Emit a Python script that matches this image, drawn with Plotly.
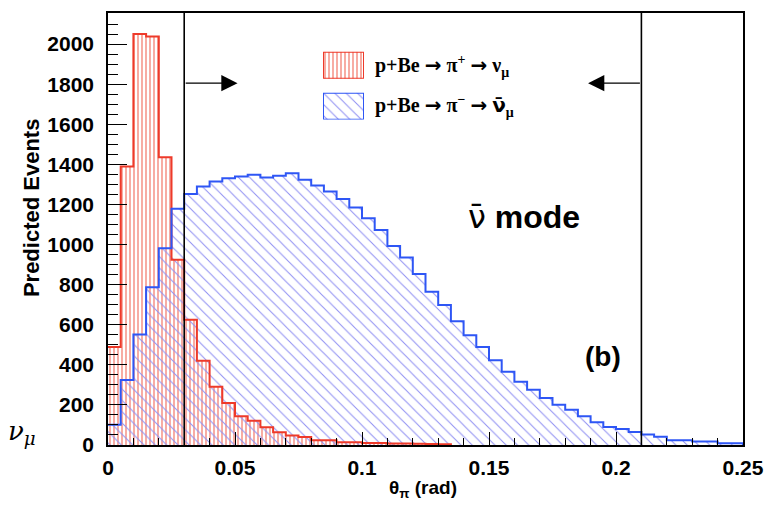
import numpy as np
import plotly.graph_objects as go

# ---------------- data ----------------
bin_width = 0.005
n_bins = 50
ARW = '<span style="font-family:DejaVu Sans">→</span>'
NUBAR = '<span style="font-family:DejaVu Sans">ν\u0304</span>'
NUBAR_THIN = '<span style="font-family:DejaVu Sans;font-weight:normal">ν\u0304</span>'
red_label = f"p+Be {ARW} π<sup>+</sup> {ARW} ν<sub>μ</sub>"
blue_label = f"p+Be {ARW} π<sup>−</sup> {ARW} {NUBAR}<sub>μ</sub>"
mode_label = f"{NUBAR_THIN} mode"

red_counts = [489, 1389, 2050, 2038, 1435, 924, 625, 420, 291, 209,
              143, 121, 88, 63, 48, 40, 24, 24, 14, 14,
              10, 10, 8, 7, 6, 5, 4, 0, 0, 0,
              0, 0, 0, 0, 0, 0, 0, 0, 0, 0,
              0, 0, 0, 0, 0, 0, 0, 0, 0, 0]
blue_counts = [101, 324, 551, 787, 981, 1178, 1252, 1290, 1315, 1331,
               1340, 1348, 1335, 1343, 1356, 1323, 1294, 1265, 1227, 1185,
               1131, 1072, 993, 935, 853, 765, 699, 617, 547, 489,
               423, 366, 316, 275, 234, 201, 176, 143, 113, 90,
               80, 65, 52, 41, 24, 24, 17, 17, 9, 9]
cut_lines = [0.03, 0.21]
y_ticks = list(range(0, 2001, 200))
x_ticks = [0, 0.05, 0.1, 0.15, 0.2, 0.25]
x_tick_text = ["0", "0.05", "0.1", "0.15", "0.2", "0.25"]

# ---------------- styles ----------------
RED = "#ee3a2a"
RED_HATCH = "#f27566"
BLUE = "#2e56f5"
BLUE_HATCH = "#9090f2"
SANS = "Liberation Sans"
SERIF = "Liberation Serif"

edges = np.arange(n_bins + 1) * bin_width
centers = edges[:-1] + bin_width / 2

fig = go.Figure()

def hist_bars(counts, shape, size, solidity, hatch):
    return go.Bar(x=centers, y=counts, width=bin_width,
                  marker=dict(color=hatch, line=dict(width=0),
                              pattern=dict(shape=shape, size=size, solidity=solidity,
                                           fgcolor=hatch, bgcolor="rgba(0,0,0,0)",
                                           fillmode="replace")),
                  showlegend=False, hoverinfo="skip")

def step_line(counts, color):
    last = max(i for i, v in enumerate(counts) if v > 0)
    xs = list(edges[:last + 2])
    ys = list(counts[:last + 1]) + [0]
    return go.Scatter(x=xs, y=ys, mode="lines",
                      line=dict(color=color, width=2, shape="hv"),
                      showlegend=False, hoverinfo="skip")

fig.add_trace(hist_bars(red_counts, "|", 4, 0.3, RED_HATCH))
fig.add_trace(hist_bars(blue_counts, "\\", 8, 0.13, BLUE_HATCH))
fig.add_trace(step_line(red_counts, RED))
fig.add_trace(step_line(blue_counts, BLUE))

# figure geometry (page has an 8px body margin)
OFF = 8
W, H = 770, 497
L, R, T, B = 100, 35, 3, 60
pw, ph = W - L - R, H - T - B
def px_x(p): return (p - OFF - L) / pw
def px_y(p): return (H - B - (p - OFF)) / ph

# legend boxes drawn as single hatched bars in small inset axes
fig.add_trace(go.Bar(x=[0], y=[1], width=[1], xaxis="x2", yaxis="y2", cliponaxis=False,
                     marker=dict(color=RED_HATCH, line=dict(color=RED, width=2),
                                 pattern=dict(shape="|", size=4, solidity=0.3, fgcolor=RED_HATCH,
                                              bgcolor="rgba(0,0,0,0)", fillmode="replace")),
                     showlegend=False, hoverinfo="skip"))
fig.add_trace(go.Bar(x=[0], y=[1], width=[1], xaxis="x3", yaxis="y3", cliponaxis=False,
                     marker=dict(color=BLUE_HATCH, line=dict(color=BLUE, width=2),
                                 pattern=dict(shape="\\", size=8, solidity=0.13, fgcolor=BLUE_HATCH,
                                              bgcolor="rgba(0,0,0,0)", fillmode="replace")),
                     showlegend=False, hoverinfo="skip"))

hidden = dict(visible=False, fixedrange=True)
box_x = [px_x(323), px_x(364)]
fig.update_layout(
    xaxis2=dict(domain=box_x, range=[-0.5, 0.5], anchor="y2", **hidden),
    yaxis2=dict(domain=[px_y(77), px_y(50)], range=[0, 1], anchor="x2", **hidden),
    xaxis3=dict(domain=box_x, range=[-0.5, 0.5], anchor="y3", **hidden),
    yaxis3=dict(domain=[px_y(118), px_y(91)], range=[0, 1], anchor="x3", **hidden),
)

tickfont = dict(family=SANS, size=21, color="black", weight="bold")
fig.update_layout(
    width=W, height=H,
    margin=dict(l=L, r=R, t=T, b=B),
    paper_bgcolor="white", plot_bgcolor="white",
    barmode="overlay", bargap=0,
    xaxis=dict(range=[0, 0.25], tickvals=x_ticks, ticktext=x_tick_text,
               ticks="inside", ticklen=13, tickwidth=1.3, tickcolor="black",
               minor=dict(dtick=0.01, ticks="inside", ticklen=7, tickwidth=1.2, tickcolor="black"),
               showline=True, linecolor="black", linewidth=1.6, mirror=True,
               showgrid=False, zeroline=False, tickfont=tickfont, ticklabelstandoff=3),
    yaxis=dict(range=[0, 2155], tickvals=y_ticks,
               ticks="inside", ticklen=19, tickwidth=1.3, tickcolor="black",
               minor=dict(dtick=50, ticks="inside", ticklen=10, tickwidth=1.2, tickcolor="black"),
               showline=True, linecolor="black", linewidth=1.6, mirror=True,
               showgrid=False, zeroline=False, tickfont=tickfont, ticklabelstandoff=8),
)

# cut lines
for c in cut_lines:
    fig.add_shape(type="line", xref="x", yref="paper", x0=c, x1=c, y0=0, y1=1,
                  line=dict(color="black", width=1.6))

# arrows
arrow_y = 1805
fig.add_annotation(x=0.051, y=arrow_y, ax=cut_lines[0], ay=arrow_y, xref="x", yref="y",
                   axref="x", ayref="y", text="", showarrow=True, arrowhead=2,
                   arrowsize=2.5, arrowwidth=1.3, arrowcolor="black")
fig.add_annotation(x=0.189, y=arrow_y, ax=cut_lines[1], ay=arrow_y, xref="x", yref="y",
                   axref="x", ayref="y", text="", showarrow=True, arrowhead=2,
                   arrowsize=2.5, arrowwidth=1.3, arrowcolor="black")

legfont = dict(family=SERIF, size=20, color="black", weight="bold")
fig.add_annotation(x=px_x(373), y=px_y(64), xref="paper", yref="paper", text=red_label,
                   showarrow=False, xanchor="left", yanchor="middle", font=legfont)
fig.add_annotation(x=px_x(373), y=px_y(104), xref="paper", yref="paper", text=blue_label,
                   showarrow=False, xanchor="left", yanchor="middle", font=legfont)

fig.add_annotation(x=px_x(466), y=px_y(216), xref="paper", yref="paper", text=mode_label,
                   showarrow=False, xanchor="left", yanchor="middle",
                   font=dict(family=SANS, size=32, color="black", weight="bold"))
fig.add_annotation(x=px_x(603), y=px_y(356), xref="paper", yref="paper", text="(b)",
                   showarrow=False, xanchor="center", yanchor="middle",
                   font=dict(family=SANS, size=28, color="black", weight="bold"))

fig.add_annotation(x=px_x(31), y=px_y(207), xref="paper", yref="paper", text="Predicted Events",
                   showarrow=False, textangle=-90, xanchor="center", yanchor="middle",
                   font=dict(family=SANS, size=22, color="black", weight="bold"))
fig.add_annotation(x=px_x(423), y=px_y(489), xref="paper", yref="paper", text="θ<sub>π</sub> (rad)",
                   showarrow=False, xanchor="center", yanchor="middle",
                   font=dict(family=SANS, size=19, color="black", weight="bold"))
fig.add_annotation(x=px_x(22), y=px_y(432), xref="paper", yref="paper", text="ν<sub>μ</sub>",
                   showarrow=False, xanchor="center", yanchor="middle",
                   font=dict(family="DejaVu Serif", size=26, color="black", style="italic"))

fig.write_html("out.html")
